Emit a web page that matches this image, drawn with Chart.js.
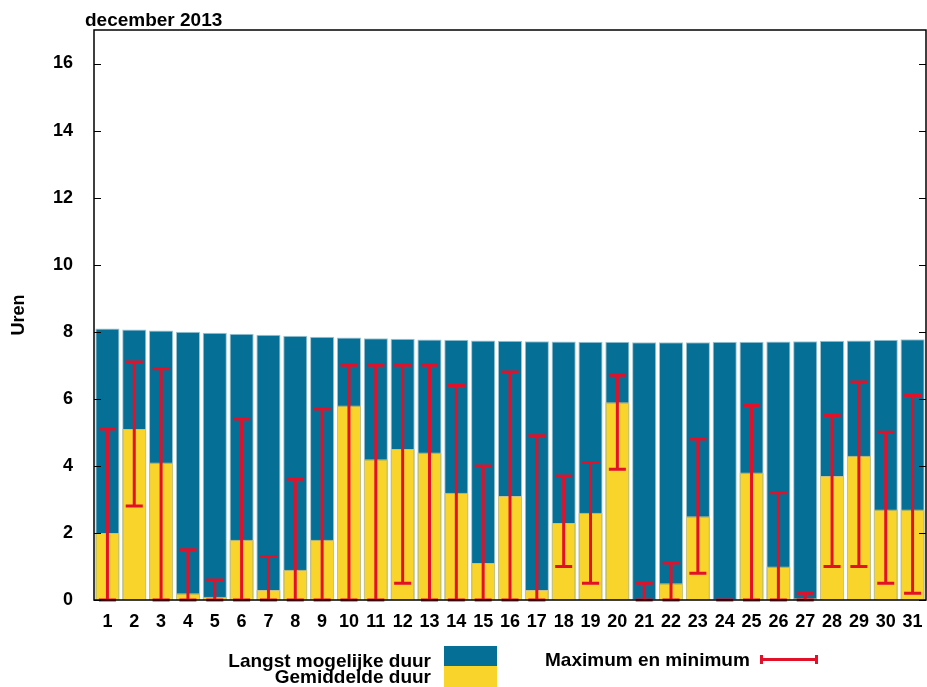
<!DOCTYPE html>
<html>
<head>
<meta charset="utf-8">
<script src="https://cdn.jsdelivr.net/npm/chart.js@4.4.1/dist/chart.umd.min.js"></script>
<style>
  body { margin: 0; background: #fff; }
  #wrap { position: relative; width: 927px; height: 687px; font-family: "Liberation Sans", Arial, sans-serif; font-weight: bold; color: #000; }
  .txt { position: absolute; font-size: 19px; line-height: 19px; white-space: nowrap; }
</style>
</head>
<body>
<div id="wrap">
  <canvas id="grafiek" width="927" height="687"></canvas>
  <div class="txt" style="left:85px; top:10px;">december 2013</div>
  <div class="txt" style="right:496px; top:651px; text-align:right;">Langst mogelijke duur</div>
  <div class="txt" style="right:496px; top:667px; text-align:right;">Gemiddelde duur</div>
  <div style="position:absolute; left:444px; top:646px; width:53px; height:20px; background:#066f95;"></div>
  <div style="position:absolute; left:444px; top:666px; width:53px; height:21px; background:#f9d42a;"></div>
  <div class="txt" style="left:545px; top:650px;">Maximum en minimum</div>
  <div style="position:absolute; left:760px; top:658px; width:58px; height:3px; background:#e3102a;"></div>
  <div style="position:absolute; left:760px; top:655px; width:3px; height:9px; background:#e3102a;"></div>
  <div style="position:absolute; left:815px; top:655px; width:3px; height:9px; background:#e3102a;"></div>
</div>
<script>
// Dagen van december 2013
const dagen = Array.from({ length: 31 }, (_, i) => String(i + 1));

// Langst mogelijke duur (uren)
const langst = [8.10, 8.07, 8.04, 8.00, 7.97, 7.94, 7.91, 7.88, 7.85, 7.83, 7.81, 7.79, 7.77, 7.76, 7.74, 7.73,
                7.72, 7.71, 7.70, 7.70, 7.69, 7.69, 7.69, 7.70, 7.70, 7.71, 7.72, 7.73, 7.74, 7.76, 7.78];

// Gemiddelde duur (uren)
const gemiddeld = [2.0, 5.1, 4.1, 0.2, 0.1, 1.8, 0.3, 0.9, 1.8, 5.8, 4.2, 4.5, 4.4, 3.2, 1.1, 3.1,
                   0.3, 2.3, 2.6, 5.9, 0, 0.5, 2.5, 0, 3.8, 1.0, 0.05, 3.7, 4.3, 2.7, 2.7];

// Maximum en minimum
const maximum = [5.1, 7.1, 6.9, 1.5, 0.6, 5.4, 1.3, 3.6, 5.7, 7.0, 7.0, 7.0, 7.0, 6.4, 4.0, 6.8,
                 4.9, 3.7, 4.1, 6.7, 0.5, 1.1, 4.8, 0, 5.8, 3.2, 0.2, 5.5, 6.5, 5.0, 6.1];
const minimum = [0, 2.8, 0, 0, 0, 0, 0, 0, 0, 0, 0, 0.5, 0, 0, 0, 0,
                 0, 1.0, 0.5, 3.9, 0, 0, 0.8, 0, 0, 0, 0, 1.0, 1.0, 0.5, 0.2];

// Y-as labels
const yTicks = [0, 2, 4, 6, 8, 10, 12, 14, 16];

const lettertype = { family: '"Liberation Sans", Arial, sans-serif', weight: 'bold', size: 18 };
Chart.defaults.color = '#000';

// Foutbalken, kader en streepjes in gnuplot-stijl
const gnuplotStijl = {
    id: 'gnuplotStijl',
    afterDatasetsDraw(chart) {
        const ctx = chart.ctx;
        const x = chart.scales.x;
        const y = chart.scales.y;
        ctx.save();
        ctx.strokeStyle = '#e3102a';
        ctx.lineWidth = 3;
        for (let i = 0; i < dagen.length; i++) {
            const px = x.getPixelForValue(i);
            const yMax = y.getPixelForValue(maximum[i]);
            const yMin = y.getPixelForValue(minimum[i]);
            ctx.beginPath();
            ctx.moveTo(px, yMin);
            ctx.lineTo(px, yMax);
            ctx.moveTo(px - 8.5, yMax);
            ctx.lineTo(px + 8.5, yMax);
            ctx.moveTo(px - 8.5, yMin);
            ctx.lineTo(px + 8.5, yMin);
            ctx.stroke();
        }
        ctx.restore();
    },
    afterDraw(chart) {
        const ctx = chart.ctx;
        const a = chart.chartArea;
        const y = chart.scales.y;
        ctx.save();
        ctx.strokeStyle = '#000';
        ctx.lineWidth = 1.5;
        ctx.strokeRect(a.left, a.top, a.right - a.left, a.bottom - a.top);
        ctx.lineWidth = 1;
        yTicks.forEach(v => {
            const py = Math.round(y.getPixelForValue(v)) + 0.5;
            ctx.beginPath();
            ctx.moveTo(a.left, py);
            ctx.lineTo(a.left + 7, py);
            ctx.moveTo(a.right, py);
            ctx.lineTo(a.right - 7, py);
            ctx.stroke();
        });
        ctx.restore();
    }
};

const ctx = document.getElementById('grafiek').getContext('2d');
window.grafiek = new Chart(ctx, {
    type: 'bar',
    data: {
        labels: dagen,
        datasets: [{
            label: 'Langst mogelijke duur',
            data: langst,
            backgroundColor: '#066f95',
            borderColor: '#9fc6d3',
            borderWidth: 1,
            borderSkipped: false,
            grouped: false,
            order: 2,
            barPercentage: 0.9,
            categoryPercentage: 1
        }, {
            label: 'Gemiddelde duur',
            data: gemiddeld,
            backgroundColor: '#f9d42a',
            borderColor: '#c8c08a',
            borderWidth: 1,
            borderSkipped: 'start',
            grouped: false,
            order: 1,
            barPercentage: 0.9,
            categoryPercentage: 1
        }]
    },
    options: {
        responsive: false,
        animation: false,
        layout: { padding: { top: 30, right: 1, left: 0, bottom: 0 } },
        plugins: {
            legend: { display: false },
            tooltip: { enabled: false }
        },
        scales: {
            x: {
                grid: { display: false, drawTicks: false },
                border: { display: false },
                ticks: { font: lettertype, padding: 11, maxRotation: 0, autoSkip: false },
                afterFit: function(scale) {
                    scale.height = 87;
                    scale.paddingLeft = 0;
                    scale.paddingRight = 0;
                }
            },
            y: {
                min: 0,
                max: 17,
                afterBuildTicks: function(scale) { scale.ticks = yTicks.map(v => ({ value: v })); },
                grid: { display: false, drawTicks: false },
                border: { display: false },
                ticks: { font: lettertype, padding: 21 },
                title: { display: true, text: 'Uren', font: lettertype, padding: { top: 8, bottom: 0 } },
                afterFit: function(scale) {
                    scale.width = 94;
                    scale.paddingTop = 0;
                    scale.paddingBottom = 0;
                }
            }
        }
    },
    plugins: [gnuplotStijl]
});
</script>
</body>
</html>
